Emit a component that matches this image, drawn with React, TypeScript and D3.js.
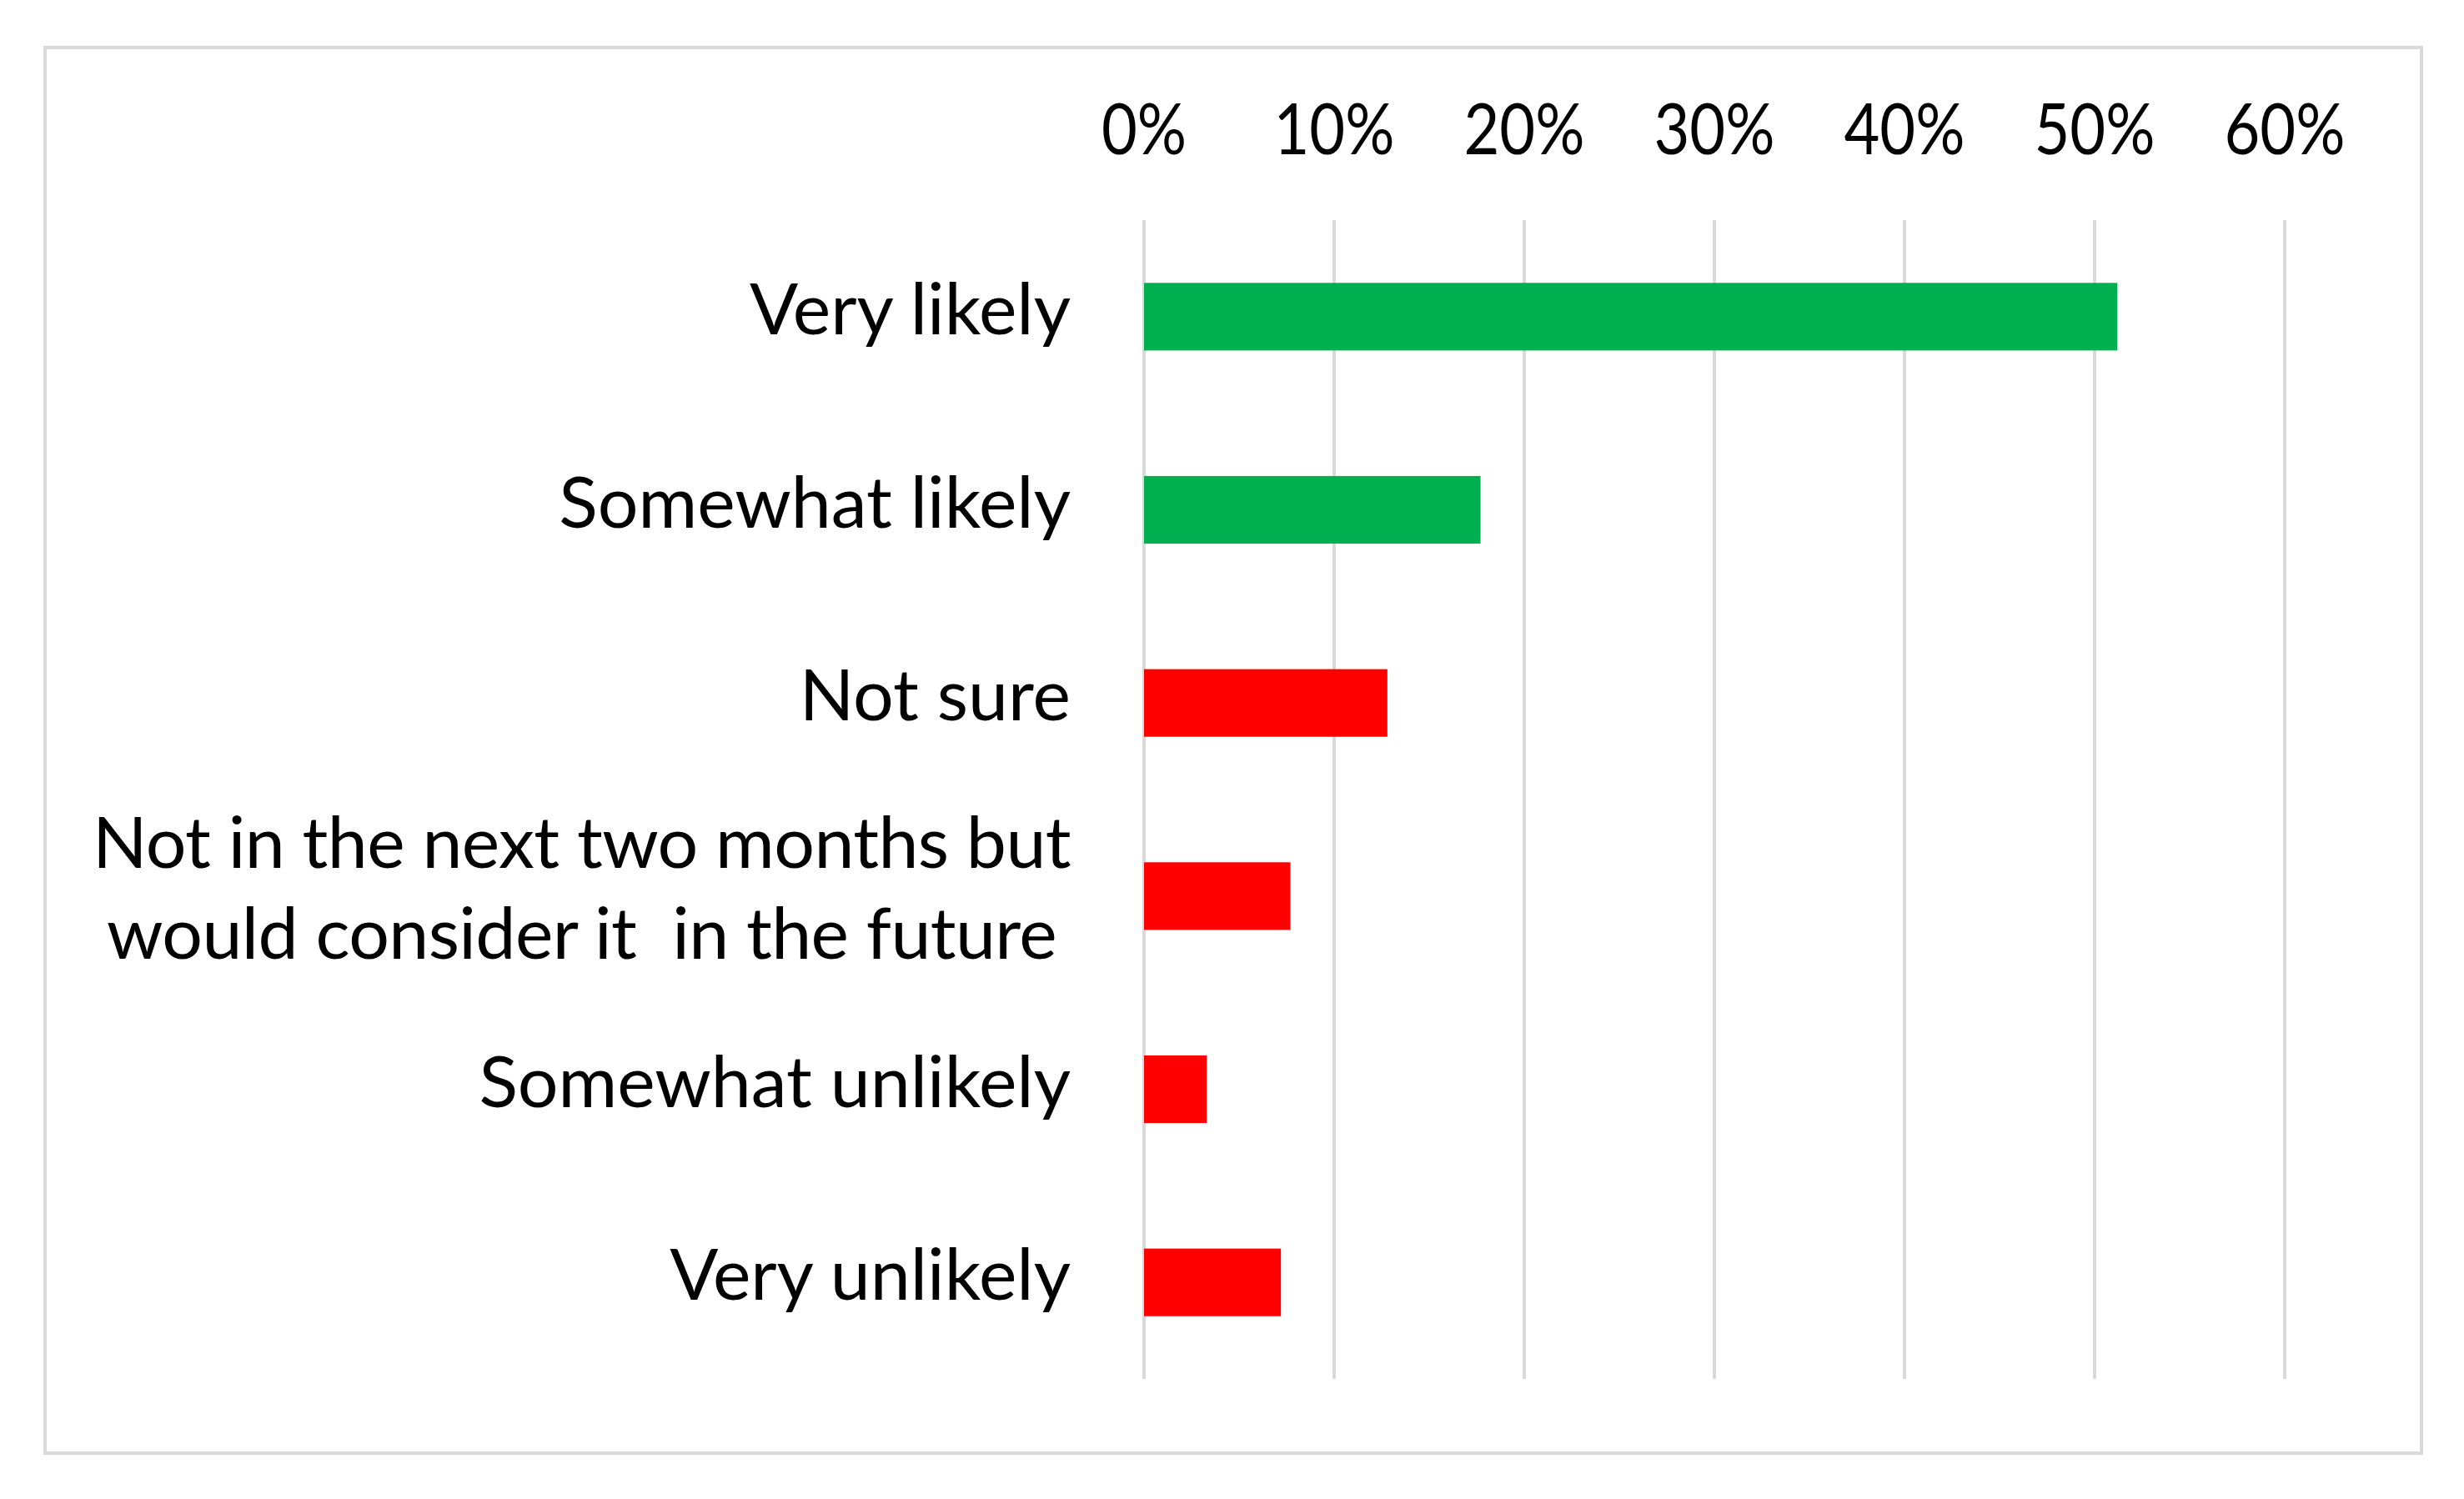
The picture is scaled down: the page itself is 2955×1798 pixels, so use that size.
import React, { useRef, useEffect, useCallback } from 'react';
import * as d3 from 'd3';

// survey answers, top to bottom ("\n" = wrapped label)
const categories = [
  'Very likely',
  'Somewhat likely',
  'Not sure',
  'Not in the next two months but\nwould consider it  in the future',
  'Somewhat unlikely',
  'Very unlikely',
];
const values = [0.512, 0.177, 0.128, 0.077, 0.033, 0.072];
const barColors = ['#00B050', '#00B050', '#FF0000', '#FF0000', '#FF0000', '#FF0000'];
const tickValues = [0, 0.1, 0.2, 0.3, 0.4, 0.5, 0.6];

const WIDTH = 2955;
const HEIGHT = 1798;
const FONT = 'Lato, "Open Sans", sans-serif';
const FONT_SIZE = 86;

const App = () => {
  const svgRef = useRef(null);

  const drawChart = useCallback((node) => {
    const svg = d3.select(node);
    svg.selectAll('*').remove();

    const x = d3.scaleLinear().domain([0, 0.6]).range([1372, 2740]);
    const y = d3.scaleBand()
      .domain(categories)
      .range([264, 1654])
      .paddingInner(0.65)
      .paddingOuter(0.325);

    svg.append('rect')
      .attr('width', WIDTH)
      .attr('height', HEIGHT)
      .attr('fill', '#ffffff');

    // outer frame
    svg.append('rect')
      .attr('x', 54)
      .attr('y', 57)
      .attr('width', 2904 - 54)
      .attr('height', 1743 - 57)
      .attr('fill', 'none')
      .attr('stroke', '#d9d9d9')
      .attr('stroke-width', 4);

    // vertical gridlines
    svg.selectAll('.grid')
      .data(tickValues)
      .enter()
      .append('line')
      .attr('class', 'grid')
      .attr('x1', d => x(d))
      .attr('x2', d => x(d))
      .attr('y1', 264)
      .attr('y2', 1654)
      .attr('stroke', '#d9d9d9')
      .attr('stroke-width', 4);

    // tick labels on top (digits narrower, like the original font)
    svg.selectAll('.tick-label')
      .data(tickValues)
      .enter()
      .append('text')
      .attr('class', 'tick-label')
      .attr('transform', d => `translate(${x(d)},185) scale(0.86,1)`)
      .attr('text-anchor', 'middle')
      .style('font-family', FONT)
      .style('font-size', `${FONT_SIZE}px`)
      .attr('fill', '#000000')
      .text(d => d3.format('.0%')(d));

    // bars
    svg.selectAll('.bar')
      .data(categories)
      .enter()
      .append('rect')
      .attr('class', 'bar')
      .attr('x', x(0))
      .attr('y', d => y(d))
      .attr('width', (d, i) => x(values[i]) - x(0))
      .attr('height', y.bandwidth())
      .attr('fill', (d, i) => barColors[i]);

    // category labels
    const labelRight = 1284;
    const lineHeight = 109;
    categories.forEach((cat) => {
      const lines = cat.split('\n');
      const center = y(cat) + y.bandwidth() / 2;
      const firstBaseline = center + 21 - ((lines.length - 1) * lineHeight) / 2;
      const g = svg.append('g');
      const texts = lines.map((line, j) => g.append('text')
        .attr('y', firstBaseline + j * lineHeight)
        .attr('xml:space', 'preserve')
        .style('white-space', 'pre')
        .style('font-family', FONT)
        .style('font-size', `${FONT_SIZE}px`)
        .style('letter-spacing', lines.length > 1 ? '-0.6px' : '0px')
        .attr('fill', '#000000')
        .text(line));
      if (lines.length === 1) {
        texts[0].attr('x', labelRight).attr('text-anchor', 'end');
      } else {
        const maxW = d3.max(texts, t => t.node().getComputedTextLength());
        texts.forEach(t => t.attr('x', labelRight - maxW / 2).attr('text-anchor', 'middle'));
      }
    });
  }, []);

  useEffect(() => {
    if (svgRef.current) {
      drawChart(svgRef.current);
    }
  }, [svgRef, drawChart]);

  return (
    <svg
      ref={svgRef}
      width={WIDTH}
      height={HEIGHT}
      style={{ position: 'absolute', left: 0, top: 0, display: 'block' }}
    />
  );
};

export default App;
